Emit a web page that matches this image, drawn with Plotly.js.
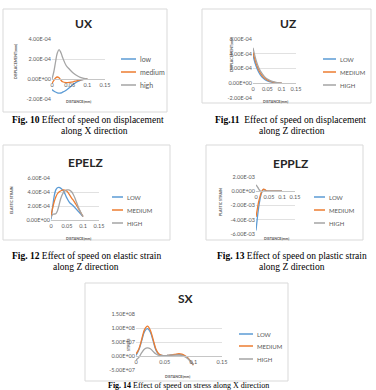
<!DOCTYPE html>
<html><head><meta charset="utf-8">
<script src="https://cdn.plot.ly/plotly-3.0.1.min.js"></script>
<style>html,body{margin:0;padding:0;background:#fff;}#chart{width:376px;height:390px;}</style>
</head><body><div id="chart"></div><script>
// ---------- data ----------
const namesLower = ['low', 'medium', 'high'];
const namesUpper = ['LOW', 'MEDIUM', 'HIGH'];
const seriesColors = ['#5B9BD5', '#ED7D31', '#A5A5A5'];

const xTickVals = [0, 0.05, 0.1, 0.15];
const xTickText = ['0', '0.05', '0.1', '0.15'];

// Fig 10 UX
const uxDistance = [0, 0.005, 0.01, 0.015, 0.02, 0.025, 0.03, 0.04, 0.05, 0.06, 0.07, 0.08, 0.09, 0.1];
const uxLow = [-1.05e-4, -1.2e-4, -1.3e-4, -1.38e-4, -1.42e-4, -1.4e-4, -1.32e-4, -1.12e-4, -0.85e-4, -0.55e-4, -0.3e-4, -0.13e-4, -0.04e-4, 0];
const uxMedium = [-0.45e-4, -0.15e-4, 0.1e-4, 0.2e-4, 0.12e-4, -0.1e-4, -0.28e-4, -0.36e-4, -0.34e-4, -0.28e-4, -0.18e-4, -0.09e-4, -0.03e-4, 0];
const uxHigh = [0, 0.7e-4, 1.7e-4, 2.6e-4, 2.93e-4, 2.65e-4, 2.15e-4, 1.35e-4, 0.95e-4, 0.6e-4, 0.35e-4, 0.17e-4, 0.06e-4, 0];
const uxYTicks = [-2e-4, 0, 2e-4, 4e-4];
const uxYTickText = ['-2.00E-04', '0.00E+00', '2.00E-04', '4.00E-04'];

// Fig 11 UZ
const uzDistance = [0, 0.01, 0.02, 0.03, 0.04, 0.05, 0.06, 0.07, 0.08, 0.09, 0.1];
const uzLow = [3.8e-4, 2.4e-4, 1.5e-4, 0.9e-4, 0.55e-4, 0.32e-4, 0.18e-4, 0.1e-4, 0.05e-4, 0.02e-4, 0];
const uzMedium = [4.2e-4, 2.8e-4, 1.8e-4, 1.15e-4, 0.72e-4, 0.45e-4, 0.27e-4, 0.15e-4, 0.08e-4, 0.03e-4, 0];
const uzHigh = [4.8e-4, 3.2e-4, 2.1e-4, 1.4e-4, 0.9e-4, 0.58e-4, 0.36e-4, 0.21e-4, 0.11e-4, 0.04e-4, 0];
const uzYTicks = [-2e-4, 0, 2e-4, 4e-4, 6e-4];
const uzYTickText = ['-2.00E-04', '0.00E+00', '2.00E-04', '4.00E-04', '6.00E-04'];

// Fig 12 EPELZ
const epelzDistance = [0, 0.005, 0.01, 0.015, 0.02, 0.025, 0.03, 0.035, 0.04, 0.045, 0.05, 0.055, 0.06, 0.065, 0.07, 0.075, 0.08, 0.085, 0.09, 0.095, 0.1];
const epelzLow = [0.1e-4, 1.8e-4, 3.4e-4, 4.3e-4, 4.6e-4, 4.65e-4, 4.55e-4, 4.35e-4, 4.05e-4, 3.6e-4, 3.1e-4, 2.7e-4, 2.4e-4, 2.2e-4, 2.0e-4, 1.75e-4, 1.5e-4, 1.25e-4, 1.0e-4, 0.75e-4, 0.5e-4];
const epelzMedium = [0.6e-4, 1.7e-4, 2.6e-4, 3.3e-4, 3.75e-4, 4.0e-4, 4.15e-4, 4.25e-4, 4.3e-4, 4.25e-4, 4.1e-4, 3.8e-4, 3.45e-4, 3.1e-4, 2.8e-4, 2.45e-4, 2.1e-4, 1.7e-4, 1.3e-4, 0.9e-4, 0.5e-4];
const epelzHigh = [0.3e-4, 0.8e-4, 0.85e-4, 0.9e-4, 1.3e-4, 2.1e-4, 3.0e-4, 3.6e-4, 4.0e-4, 4.2e-4, 4.3e-4, 4.3e-4, 4.2e-4, 4.0e-4, 3.6e-4, 3.1e-4, 2.5e-4, 1.9e-4, 1.4e-4, 0.9e-4, 0.5e-4];
const epelzYTicks = [0, 2e-4, 4e-4, 6e-4];
const epelzYTickText = ['0.00E+00', '2.00E-04', '4.00E-04', '6.00E-04'];

// Fig 13 EPPLZ
const epplzDistance = [0, 0.005, 0.01, 0.015, 0.02, 0.025, 0.03, 0.035, 0.04, 0.05, 0.06, 0.07, 0.08, 0.09, 0.1];
const epplzLow = [-5.5e-3, -3.8e-3, -2.3e-3, -1.2e-3, -0.4e-3, 0.1e-3, 0.25e-3, 0.15e-3, 0.05e-3, 0, 0, 0, 0, 0, 0];
const epplzMedium = [-3.6e-3, -2.5e-3, -1.5e-3, -0.8e-3, -0.2e-3, 0.15e-3, 0.3e-3, 0.2e-3, 0.05e-3, 0, 0, 0, 0, 0, 0];
const epplzHigh = [0.9e-3, 0.65e-3, 0.35e-3, 0.1e-3, -0.05e-3, -0.05e-3, 0, 0, 0, 0, 0, 0, 0, 0, 0];
const epplzYTicks = [-6e-3, -4e-3, -2e-3, 0, 2e-3];
const epplzYTickText = ['-6.00E-03', '-4.00E-03', '-2.00E-03', '0.00E+00', '2.00E-03'];

// Fig 14 SX
const sxDistance = [0, 0.005, 0.01, 0.015, 0.02, 0.025, 0.03, 0.035, 0.04, 0.045, 0.05, 0.055, 0.06, 0.065, 0.07, 0.075, 0.08, 0.085, 0.09, 0.095, 0.1];
const sxLow = [0.2e7, 2.2e7, 5.5e7, 8.8e7, 9.8e7, 8.5e7, 5.3e7, 2.0e7, 0.6e7, 0.2e7, 0.1e7, 0.2e7, 0.3e7, 0.4e7, 0.5e7, 0.5e7, 0.4e7, 0, -0.7e7, -1.8e7, -3.2e7];
const sxMedium = [0.7e7, 2.5e7, 6.0e7, 9.5e7, 10.7e7, 9.2e7, 5.8e7, 2.3e7, 0.7e7, 0.2e7, 0.1e7, 0.2e7, 0.3e7, 0.5e7, 0.7e7, 0.8e7, 0.7e7, 0.2e7, -0.6e7, -1.8e7, -3.3e7];
const sxHigh = [-1.4e7, -0.5e7, 1.2e7, 2.5e7, 2.9e7, 2.6e7, 1.6e7, 0.7e7, 0.2e7, 0.1e7, 0.1e7, 0.2e7, 0.3e7, 0.3e7, 0.3e7, 0.3e7, 0.2e7, -0.2e7, -0.9e7, -1.9e7, -3.1e7];
const sxYTicks = [-5e7, 0, 5e7, 1e8, 1.5e8];
const sxYTickText = ['-5.00E+07', '0.00E+00', '5.00E+07', '1.00E+08', '1.50E+08'];

// ---------- layout helpers ----------
const W = 376, H = 390;
const fx = p => p / W;
const fy = p => 1 - p / H;
const SANS = 'Lato, "Liberation Sans", sans-serif';
const SERIF = '"Liberation Serif", "DejaVu Serif", serif';
const GREY = '#595959';

const charts = [
  { title: 'UX', names: namesLower, x: uxDistance, ys: [uxLow, uxMedium, uxHigh], yRange: [-2e-4, 4e-4], yt: uxYTicks, ytt: uxYTickText,
    plot: [52, 39, 105, 99], box: [3, 9, 167, 112], titleAt: [84, 23], yTitle: 'DISPLACEMENT(mm)', yTitleAt: [16, 62], xTitleAt: [78, 102],
    legend: [121, 136, 138, [59, 72, 85]], legendSize: 7 },
  { title: 'UZ', names: namesUpper, x: uzDistance, ys: [uzLow, uzMedium, uzHigh], yRange: [-2e-4, 6e-4], yt: uzYTicks, ytt: uzYTickText,
    plot: [253, 39, 296, 98], box: [202, 9, 371, 103], titleAt: [288, 23], yTitle: 'DISPLACEMENT(mm)', yTitleAt: [232, 55], xTitleAt: [275, 102],
    legend: [323, 336, 338, [59, 72, 85]], legendSize: 6 },
  { title: 'EPELZ', names: namesUpper, x: epelzDistance, ys: [epelzLow, epelzMedium, epelzHigh], yRange: [0, 6e-4], yt: epelzYTicks, ytt: epelzYTickText,
    plot: [51, 178, 99, 220], box: [3, 145, 170, 240], titleAt: [85, 162], yTitle: 'ELASTIC STRAIN', yTitleAt: [12, 200], xTitleAt: [78, 238],
    legend: [112, 123, 125, [197, 210, 223]], legendSize: 6 },
  { title: 'EPPLZ', names: namesUpper, x: epplzDistance, ys: [epplzLow, epplzMedium, epplzHigh], yRange: [-6e-3, 2e-3], yt: epplzYTicks, ytt: epplzYTickText,
    plot: [256, 177, 295, 234], box: [206, 145, 363, 240], titleAt: [290, 163], yTitle: 'PLASTIC STRAIN', yTitleAt: [220, 202], xTitleAt: [276, 238],
    legend: [314, 325, 327, [197, 210, 223]], legendSize: 6 },
  { title: 'SX', names: namesUpper, x: sxDistance, ys: [sxLow, sxMedium, sxHigh], yRange: [-5e7, 1.5e8], yt: sxYTicks, ytt: sxYTickText,
    plot: [136, 314, 222, 370], box: [85, 283, 288, 381], titleAt: [186, 298], yTitle: 'STRESS', yTitleAt: [128, 345], xTitleAt: [177, 376],
    legend: [239, 253, 255, [334, 346, 359]], legendSize: 6 }
];

const captions = [
  { text: '<b>Fig. 10</b> Effect of speed on displacement', at: [88, 120], size: 9.5 },
  { text: 'along X direction', at: [94, 131], size: 9.5 },
  { text: '<b>Fig.11</b>  Effect of speed on displacement', at: [290, 120], size: 9.5 },
  { text: 'along Z direction', at: [292, 131], size: 9.5 },
  { text: '<b>Fig. 12</b> Effect of speed on elastic strain', at: [86, 256], size: 9.5 },
  { text: 'along Z direction', at: [86, 267], size: 9.5 },
  { text: '<b>Fig. 13</b> Effect of speed on plastic strain', at: [292, 256], size: 9.5 },
  { text: 'along Z direction', at: [292, 267], size: 9.5 },
  { text: '<b>Fig. 14</b> Effect of speed on stress along X direction', at: [188, 385.5], size: 8 }
];

const traces = [];
const layout = {
  width: W, height: H, margin: { l: 0, r: 0, t: 0, b: 0 },
  paper_bgcolor: '#fff', plot_bgcolor: 'rgba(0,0,0,0)', showlegend: false,
  shapes: [], annotations: []
};

charts.forEach((c, i) => {
  const n = i + 1;
  const xa = n === 1 ? 'xaxis' : 'xaxis' + n;
  const ya = n === 1 ? 'yaxis' : 'yaxis' + n;
  const xr = n === 1 ? 'x' : 'x' + n;
  const yr = n === 1 ? 'y' : 'y' + n;
  const [l, t, r, b] = c.plot;
  const yDom = [fy(b), fy(t)];
  const zeroPos = yDom[0] + (0 - c.yRange[0]) / (c.yRange[1] - c.yRange[0]) * (yDom[1] - yDom[0]);

  c.ys.forEach((ys, j) => {
    traces.push({ type: 'scatter', mode: 'lines', x: c.x, y: ys, name: c.names[j], xaxis: xr, yaxis: yr,
      line: { color: seriesColors[j], width: 1.3, shape: 'spline', smoothing: 1 }, hoverinfo: 'skip' });
  });

  layout[xa] = { domain: [fx(l), fx(r)], range: [0, 0.15], anchor: 'free', position: zeroPos,
    tickvals: xTickVals, ticktext: xTickText, showgrid: false, zeroline: false, showline: true,
    linecolor: '#c6c6c6', linewidth: 1, ticks: '', tickfont: { family: SANS, size: 5.5, color: GREY }, fixedrange: true };
  layout[ya] = { domain: yDom, range: c.yRange, anchor: xr, tickvals: c.yt, ticktext: c.ytt,
    showgrid: true, gridcolor: '#d9d9d9', gridwidth: 0.8, zeroline: false, showline: false, ticks: '',
    tickfont: { family: SANS, size: 5.5, color: GREY }, fixedrange: true };

  const [bx0, by0, bx1, by1] = c.box;
  layout.shapes.push({ type: 'rect', xref: 'paper', yref: 'paper', x0: fx(bx0), x1: fx(bx1), y0: fy(by1), y1: fy(by0),
    line: { color: '#d9d9d9', width: 1 }, fillcolor: 'rgba(0,0,0,0)', layer: 'below' });

  layout.annotations.push({ text: c.title, xref: 'paper', yref: 'paper', x: fx(c.titleAt[0]), y: fy(c.titleAt[1]),
    xanchor: 'center', yanchor: 'middle', showarrow: false, font: { family: SANS, size: 12, color: '#262626', weight: 'bold' } });
  layout.annotations.push({ text: c.yTitle, xref: 'paper', yref: 'paper', x: fx(c.yTitleAt[0]), y: fy(c.yTitleAt[1]),
    xanchor: 'center', yanchor: 'middle', textangle: -90, showarrow: false, font: { family: SANS, size: 3.6, color: GREY, weight: 'bold' } });
  layout.annotations.push({ text: 'DISTANCE(mm)', xref: 'paper', yref: 'paper', x: fx(c.xTitleAt[0]), y: fy(c.xTitleAt[1]),
    xanchor: 'center', yanchor: 'middle', showarrow: false, font: { family: SANS, size: 3.6, color: GREY, weight: 'bold' } });

  const [lx0, lx1, tx, lys] = c.legend;
  c.names.forEach((nm, j) => {
    layout.shapes.push({ type: 'line', xref: 'paper', yref: 'paper', x0: fx(lx0), x1: fx(lx1), y0: fy(lys[j]), y1: fy(lys[j]),
      line: { color: seriesColors[j], width: 1.5 } });
    layout.annotations.push({ text: nm, xref: 'paper', yref: 'paper', x: fx(tx), y: fy(lys[j]), xanchor: 'left', yanchor: 'middle',
      showarrow: false, font: { family: SANS, size: c.legendSize, color: GREY } });
  });
});

captions.forEach(cp => {
  layout.annotations.push({ text: cp.text, xref: 'paper', yref: 'paper', x: fx(cp.at[0]), y: fy(cp.at[1]),
    xanchor: 'center', yanchor: 'middle', showarrow: false, font: { family: SERIF, size: cp.size, color: '#000' } });
});

Plotly.newPlot('chart', traces, layout, { staticPlot: true, displayModeBar: false });
</script></body></html>
